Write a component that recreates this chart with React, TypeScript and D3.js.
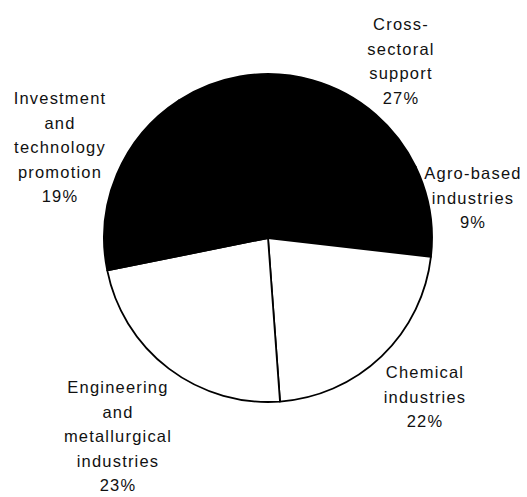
import React from 'react';
import * as d3 from 'd3';

// shares by programme area (%)
const categories = [
  'Cross-sectoral support',
  'Agro-based industries',
  'Chemical industries',
  'Engineering and metallurgical industries',
  'Investment and technology promotion',
];
const shares = [27, 9, 22, 23, 19];
const labelLines = [
  ['Cross-', 'sectoral', 'support', '27%'],
  ['Agro-based', 'industries', '9%'],
  ['Chemical', 'industries', '22%'],
  ['Engineering', 'and', 'metallurgical', 'industries', '23%'],
  ['Investment', 'and', 'technology', 'promotion', '19%'],
];
const fills = ['#000000', '#000000', '#ffffff', '#ffffff', '#000000'];

// label block placement: centre x, first baseline
const labelPos = [
  { x: 401, y: 30 },
  { x: 473, y: 179 },
  { x: 425, y: 378 },
  { x: 118, y: 393 },
  { x: 60, y: 104 },
];

export default function App() {
  const width = 527;
  const height = 497;
  const cx = 268;
  const cy = 238;
  const radius = 164;
  const lineH = 24.5;

  const pie = d3.pie<number>()
    .sort(null)
    .startAngle(-33 * Math.PI / 180)
    .endAngle((360 - 33) * Math.PI / 180);

  const arc = d3.arc<d3.PieArcDatum<number>>()
    .innerRadius(0)
    .outerRadius(radius);

  const slices = pie(shares);

  return (
    <svg width={width} height={height}
         style={{ position: 'absolute', left: 0, top: 0, background: '#fff' }}>
      <g transform={'translate(' + cx + ',' + cy + ')'}>
        {slices.map((d, i) => (
          <path key={categories[i]}
                d={arc(d) || ''}
                fill={fills[i]}
                stroke="#000"
                strokeWidth={1.8}
                strokeLinejoin="round" />
        ))}
      </g>
      {labelLines.map((lines, i) => (
        <text key={'l' + i}
              textAnchor="middle"
              fontFamily="'Liberation Sans', Arial, sans-serif"
              fontSize={16.5}
              letterSpacing={1.2}
              fill="#111">
          {lines.map((s, j) => (
            <tspan key={j} x={labelPos[i].x} y={labelPos[i].y + j * lineH}>{s}</tspan>
          ))}
        </text>
      ))}
    </svg>
  );
}
